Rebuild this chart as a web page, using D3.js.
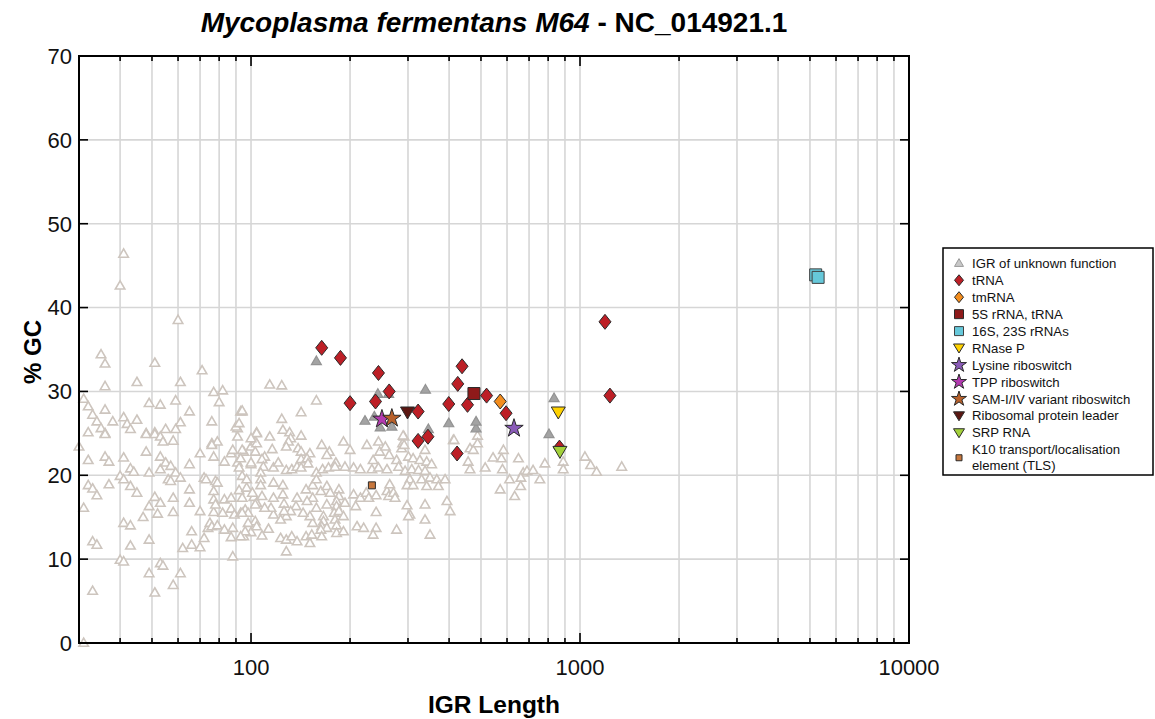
<!DOCTYPE html>
<html><head><meta charset="utf-8">
<script src="https://cdn.jsdelivr.net/npm/d3@7"></script>
<style>body{margin:0;background:#fff;} text{font-family:"Liberation Sans",Arial,sans-serif;}</style>
</head><body>
<svg id="c" width="1155" height="719"></svg>
<script>
// ---------- DATA ----------
const xTickLabels = [100, 1000, 10000];
const yTickLabels = [0, 10, 20, 30, 40, 50, 60, 70];
// background IGRs (beige hollow triangles) [length, %GC]
const igrBackground = [
[41,46.4],[40,42.6],[60,38.5],[35,34.4],[36,33.3],[51,33.4],[71,32.5],[36,30.6],[45,31.1],[61,31.1],[77,29.9],[82,30.1],[80,28.7],[31,29.1],[32,28.2],[33,27.2],[34,26.4],[35,25.6],[36,27.8],[36,25.0],[38,26.4],[32,25.1],[41,26.9],[42,26.1],[43,25.5],[45,26.6],[49,28.6],[53,28.4],[48,25.0],[51,25.1],[55,25.5],[59,28.9],[61,26.3],[59,25.5],[65,27.6],[76,26.4],[91,25.6],[93,27.6],
[30,23.4],[36,24.9],[32,21.8],[36,22.2],[37,21.6],[41,22.1],[43,20.8],[44,20.4],[48,24.9],[48,22.8],[51,24.9],[53,24.6],[54,24.0],[58,24.1],[53,22.2],[53,20.7],[55,21.5],[57,21.1],[59,20.3],[49,20.3],[61,19.7],[56,19.5],[57,19.3],[32,18.8],[33,18.4],[34,17.6],[37,18.9],[31,16.1],[33,12.1],[34,11.7],[33,6.2],[31,0],[40,19.9],[41,19.5],[43,18.7],[45,17.9],[40,9.9],[41,9.7],[41,14.3],[43,14.0],[43,11.6],[47,15.0],[49,16.3],[49,12.3],[51,17.4],[52,15.4],[53,16.7],[49,8.3],[53,9.5],[54,9.2],[51,6.0],[58,17.3],[58,15.6],[58,6.9],[61,8.3],[62,11.3],[65,21.3],[65,18.3],[65,16.7],[66,13.3],[66,11.7],[70,15.7],[70,11.4],[70,22.6],[72,19.7],[73,19.5],[74,13.7],[72,12.5],[76,23.8],[77,22.2],[78,19.3],[79,19.1],[77,18.1],[77,17.1],[77,15.6],[78,16.5],[75,14.3],[76,13.9],[79,14.0],[79,24.0],[83,13.5],[83,21.6],[83,17.1],[82,15.5],[87,22.6],[88,23.0],[87,17.3],[87,16.0],[89,15.3],[88,13.7],[87,12.6],[88,10.3],[90,25.8],[91,24.6],[91,21.5],[92,18.2],[93,15.5],[94,19.9],[95,22.8],[95,12.7],[96,15.9],[97,18.5],[98,15.5],[100,21.3],[100,13.2],[100,23.4],[103,24.0],[104,25.1],[103,14.5],[102,17.4],[104,16.7],
[114,30.8],[124,30.7],[158,28.9],[142,27.5],[124,26.7],[94,27.6],[104,25.0],[114,24.6],[125,25.4],[131,25.1],[132,24.4],[130,24.0],[94,23.0],[104,23.8],[103,22.8],[116,23.1],[110,22.2],[128,23.4],[139,23.2],[142,22.8],[142,21.9],[151,22.6],[148,22.0],[164,23.6],[173,22.8],[170,22.4],[191,24.0],[200,23.0],[225,23.6],[244,24.0],[246,22.8],[235,21.8],[256,23.4],[263,22.4],[277,21.8],[289,23.8],[292,24.6],[287,23.2],[301,22.2],[311,22.0],[326,21.8],[342,21.6],[338,23.0],[354,21.3],[412,24.2],[463,23.2],[457,21.6],[463,20.7],[474,23.0],[93,22.0],[92,20.9],[100,21.5],[108,21.9],[109,21.0],[117,20.9],[121,21.5],[128,20.6],[133,20.7],[138,21.0],[142,20.9],[149,21.4],[158,20.3],[165,20.7],[172,20.9],[181,21.5],[180,21.0],[193,21.0],[205,20.9],[215,20.7],[233,20.7],[244,20.9],[259,20.7],[281,21.0],[294,20.5],[308,20.7],[323,20.6],[338,20.5],[330,19.5],[350,19.7],[367,19.5],[389,19.5],[304,19.5],[298,18.8],[311,18.8],[342,18.7],[371,18.7],[97,19.5],[107,20.3],[107,19.5],[107,18.8],[101,17.9],[108,17.5],[117,19.1],[125,18.8],[117,17.3],[125,17.7],[126,16.6],[138,17.3],[147,18.3],[154,18.8],[158,19.5],[163,18.1],[170,18.7],[174,17.9],[185,18.3],[185,17.5],[182,16.9],[193,16.7],[205,17.7],[215,17.3],[208,16.3],[224,17.9],[228,17.3],[240,17.6],[259,18.1],[262,17.5],[271,17.9],[274,17.3],[264,18.9],[240,15.6],[240,13.7],[210,13.9],[220,13.7],[235,12.9],[277,13.5],[298,16.4],[304,15.3],[301,15.1],[338,16.5],[338,14.7],[350,12.9],[403,15.7],[394,16.9],[154,17.3],[148,16.9],[158,16.1],[170,16.5],[182,16.3],[179,15.5],[185,15.7],[191,15.1],[180,14.7],[166,15.1],[166,14.5],[164,13.9],[170,13.7],[182,14.0],[154,14.3],[151,15.1],[144,15.5],[137,16.3],[132,15.7],[128,15.1],[126,15.7],[123,14.7],[117,15.3],[115,16.1],[110,16.1],[103,16.5],[98,14.3],[96,13.3],[104,13.9],[113,13.6],[108,12.8],[123,12.5],[128,12.3],[133,12.7],[138,12.1],[147,12.7],[153,12.9],[151,11.9],[163,13.5],[164,12.7],[182,13.1],[191,13.3],[128,10.9],[93,12.7],[94,15.5],[94,17.3],
[94,27.7],[92,26.2],[142,24.7],[100,24.4],[76,23.6],[290,24.7],[292,23.6],[414,24.2],[488,24.7],[488,23.8],
[585,23.0],[577,22.0],[581,20.7],[672,20.3],[782,21.4],[889,21.6],[889,20.7],[1035,22.2],[1077,21.2],[1123,20.4],[1339,21.0],
[515,20.9],[544,22.1],[572,18.3],[611,19.5],[633,17.5],[650,22.0],[661,19.7],[690,20.5],[720,20.6],[755,19.5],[660,18.7]
];
// IGR of unknown function (grey filled triangles)
const igrUnknown = [[158,33.6],[243,29.7],[262,29.7],[222,26.5],[237,27.0],[247,25.7],[268,25.8],[339,30.2],[346,25.5],[399,26.2],[483,25.6],[483,26.4],[834,29.2],[805,24.9]];
const tRNA = [[164,35.2],[187,34.0],[200,28.6],[239,28.8],[244,32.2],[263,30.0],[322,27.6],[322,24.1],[345,24.6],[399,28.5],[423,22.6],[425,30.9],[438,33.0],[455,28.4],[520,29.5],[596,27.4],[1191,38.3],[1233,29.5],[866,23.3]];
const tmRNA = [[572,28.8]];
const rRNA5S = [[476,29.75]];
const rRNA16S23S = [[5204,43.9],[5293,43.6]];
const rnaseP = [[859,27.5]];
const lysine = [[630,25.6]];
const tpp = [[250,26.7]];
const sam = [[268,26.8]];
const riboLeader = [[299,27.5]];
const srp = [[869,22.8]];
const k10 = [[233,18.8]];
const legendLabels = ["IGR of unknown function","tRNA","tmRNA","5S rRNA, tRNA","16S, 23S rRNAs","RNase P","Lysine riboswitch","TPP riboswitch","SAM-I/IV variant riboswitch","Ribosomal protein leader","SRP RNA","K10 transport/localisation|element (TLS)"];

// ---------- CHART ----------
const svg = d3.select("#c");
const x = d3.scaleLog().domain([30, 10000]).range([79, 909]);
const y = d3.scaleLinear().domain([0, 70]).range([643, 56]);
const [x0, x1] = x.range(), [y0, y1] = y.range();

// grid
const minor = [];
[10, 100, 1000].forEach(d => { for (let m = 1; m <= 9; m++) { const v = d * m; if (v > 30 && v < 10000) minor.push(v); } });
svg.append("g").selectAll("line").data(minor).join("line")
  .attr("x1", d => x(d)).attr("x2", d => x(d)).attr("y1", y1).attr("y2", y0)
  .attr("stroke", "#d6d6d6").attr("stroke-width", 1.6);
svg.append("g").selectAll("line").data(yTickLabels.slice(1, -1)).join("line")
  .attr("x1", x0).attr("x2", x1).attr("y1", d => y(d)).attr("y2", d => y(d))
  .attr("stroke", "#d6d6d6").attr("stroke-width", 1.6);

// shapes
function tri(s) { const h = s * 0.866; return `M0,${-h*0.6}L${s/2},${h*0.4}L${-s/2},${h*0.4}Z`; }
function triDown(w, h) { return `M${-w/2},${-h*0.45}L${w/2},${-h*0.45}L0,${h*0.55}Z`; }
function diamond(w, h) { return `M0,${-h/2}L${w/2},0L0,${h/2}L${-w/2},0Z`; }
function square(s) { return `M${-s/2},${-s/2}h${s}v${s}h${-s}Z`; }
const star = s => d3.symbol(d3.symbolStar, s)();

function plot(data, path, fill, stroke, sw) {
  svg.append("g").selectAll("path").data(data).join("path")
    .attr("d", path).attr("transform", d => `translate(${x(d[0])},${y(d[1])})`)
    .attr("fill", fill).attr("stroke", stroke).attr("stroke-width", sw);
}
plot(igrBackground, tri(9.5), "#fff", "#cdc5be", 1.6);
plot(igrUnknown, tri(10), "#a3a3a3", "#939393", 1.2);
plot(tRNA, diamond(12, 15), "#bd1f26", "#2a2a2a", 1);
plot(tmRNA, diamond(12, 15), "#f38d1e", "#2a2a2a", 1);
plot(rRNA5S, square(12), "#8e1a1a", "#2a2a2a", 1);
plot(rRNA16S23S, square(12), "#66c8da", "#3f3f3f", 1);
plot(rnaseP, triDown(14, 12), "#ffd200", "#2a2a2a", 1);
plot(lysine, star(105), "#8a5bb8", "#2a2a2a", 1);
plot(tpp, star(105), "#b33ab0", "#2a2a2a", 1);
plot(sam, star(105), "#b8612b", "#2a2a2a", 1);
plot(riboLeader, triDown(14, 12), "#5b1712", "#2a2a2a", 1);
plot(srp, triDown(14, 12), "#a3d13a", "#2a2a2a", 1);
plot(k10, square(7), "#c7773d", "#2a2a2a", 1);

// frame & ticks
const ax = svg.append("g").attr("stroke", "#000");
ax.append("rect").attr("x", x0).attr("y", y1).attr("width", x1 - x0).attr("height", y0 - y1)
  .attr("fill", "none").attr("stroke-width", 2);
const major = v => [100, 1000].includes(v);
ax.selectAll(".tb").data(minor).join("line").attr("class","tb").attr("x1", d => x(d)).attr("x2", d => x(d))
  .attr("y1", y0).attr("y2", d => y0 - (major(d) ? 10 : 5)).attr("stroke-width", 1.6);
ax.selectAll(".tt").data(minor).join("line").attr("class","tt").attr("x1", d => x(d)).attr("x2", d => x(d))
  .attr("y1", y1).attr("y2", d => y1 + (major(d) ? 10 : 5)).attr("stroke-width", 1.6);
ax.selectAll(".tl").data(yTickLabels).join("line").attr("class","tl").attr("x1", x0).attr("x2", x0 + 9)
  .attr("y1", d => y(d)).attr("y2", d => y(d)).attr("stroke-width", 1.6);
ax.selectAll(".tr").data(yTickLabels).join("line").attr("class","tr").attr("x1", x1).attr("x2", x1 - 9)
  .attr("y1", d => y(d)).attr("y2", d => y(d)).attr("stroke-width", 1.6);

// labels
svg.append("g").selectAll("text").data(yTickLabels).join("text")
  .attr("x", 72).attr("y", d => y(d)).attr("dy", "0.36em").attr("text-anchor", "end")
  .attr("font-size", 22).attr("fill", "#111").text(d => d);
svg.append("g").selectAll("text").data(xTickLabels).join("text")
  .attr("x", d => x(d)).attr("y", 675).attr("text-anchor", "middle")
  .attr("font-size", 22).attr("fill", "#111").text(d => d);
svg.append("text").attr("x", 494).attr("y", 713).attr("text-anchor", "middle")
  .attr("font-size", 24.5).attr("font-weight", "bold").text("IGR Length");
svg.append("text").attr("transform", "translate(41,352) rotate(-90)").attr("text-anchor", "middle")
  .attr("font-size", 24).attr("font-weight", "bold").text("% GC");
const t = svg.append("text").attr("x", 494).attr("y", 32).attr("text-anchor", "middle")
  .attr("font-size", 28).attr("font-weight", "bold");
t.append("tspan").attr("font-style", "italic").text("Mycoplasma fermentans M64");
t.append("tspan").text(" - NC_014921.1");

// legend
const lg = svg.append("g");
lg.append("rect").attr("x", 943).attr("y", 248).attr("width", 210).attr("height", 227)
  .attr("fill", "#fff").attr("stroke", "#000").attr("stroke-width", 1.5);
const lsym = [
  [tri(9), "#c8c8c8", "#9a9a9a"], [diamond(9, 11), "#bd1f26", "#2a2a2a"], [diamond(9, 11), "#f38d1e", "#2a2a2a"],
  [square(9), "#8e1a1a", "#2a2a2a"], [square(9), "#66c8da", "#3f3f3f"], [triDown(11, 9), "#ffd200", "#2a2a2a"],
  [star(70), "#8a5bb8", "#2a2a2a"], [star(70), "#b33ab0", "#2a2a2a"], [star(70), "#b8612b", "#2a2a2a"],
  [triDown(11, 9), "#5b1712", "#2a2a2a"], [triDown(11, 9), "#a3d13a", "#2a2a2a"], [square(6), "#c7773d", "#2a2a2a"]
];
legendLabels.forEach((lab, i) => {
  const cy = 263.3 + i * 16.95;
  const parts = lab.split("|");
  const sy = parts.length > 1 ? cy + 8 : cy;
  lg.append("path").attr("d", lsym[i][0]).attr("transform", `translate(959,${sy})`)
    .attr("fill", lsym[i][1]).attr("stroke", lsym[i][2]).attr("stroke-width", 1);
  parts.forEach((p, j) => lg.append("text").attr("x", 972).attr("y", cy + j * 16).attr("dy", "0.35em")
    .attr("font-size", 13.2).attr("fill", "#111").text(p));
});
</script>
</body></html>
